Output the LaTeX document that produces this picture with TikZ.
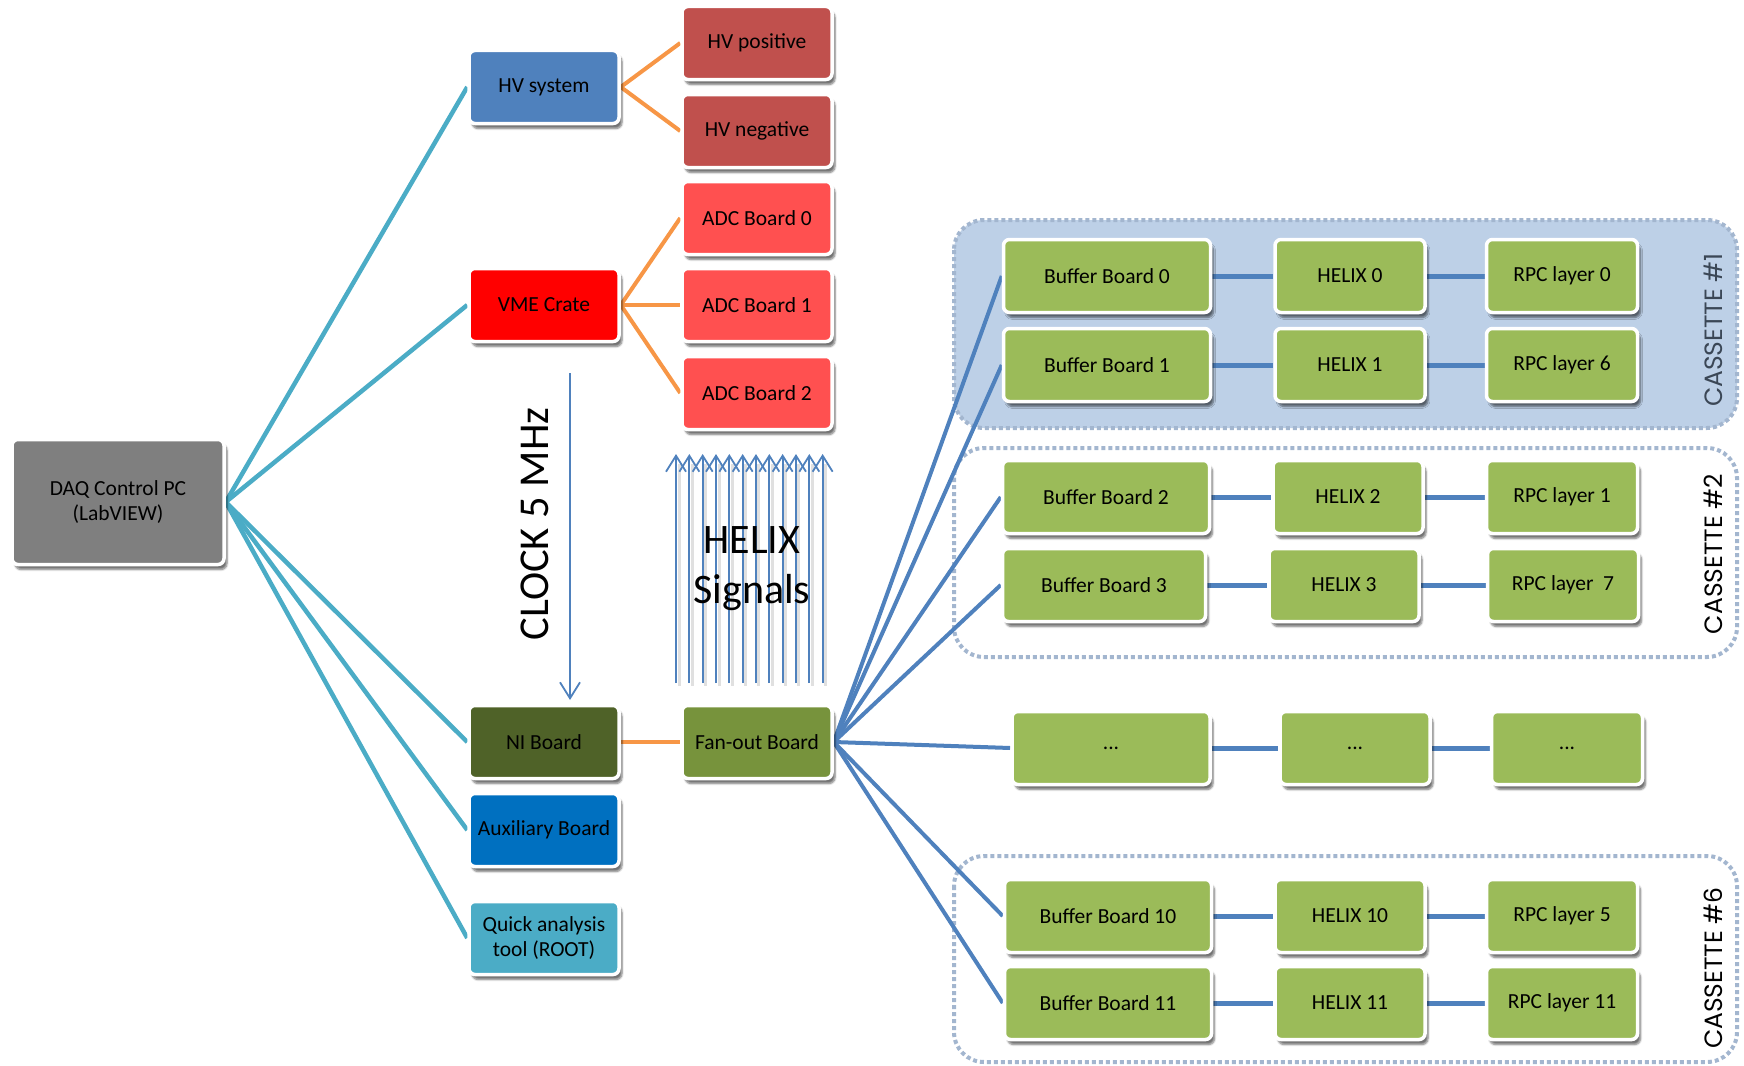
\documentclass[tikz,border=0pt]{standalone}
\usepackage{fontspec}
\setmainfont{Carlito}
\newfontfamily\cassfont{Poppins}
\usetikzlibrary{shadows.blur,arrows.meta,calc}
\pgfdeclarelayer{mid}
\pgfsetlayers{mid,main}
\definecolor{cgray}{HTML}{7F7F7F}
\definecolor{cblue}{HTML}{4F81BD}
\definecolor{cdred}{HTML}{C0504D}
\definecolor{cred}{HTML}{FF0000}
\definecolor{cadc}{HTML}{FF5050}
\definecolor{colive}{HTML}{4F6228}
\definecolor{caux}{HTML}{0070C0}
\definecolor{cteal}{HTML}{4BACC6}
\definecolor{cfan}{HTML}{77933C}
\definecolor{cgreen}{HTML}{9BBB59}
\definecolor{corange}{HTML}{F79646}
\definecolor{ccass}{HTML}{BDD0E7}
\definecolor{ccassb}{HTML}{A3B6CF}
\definecolor{ctext1}{HTML}{3B4756}
\begin{document}
\begin{tikzpicture}[x=1pt,y=-1pt,
  box/.style={rectangle, rounded corners=6pt, draw=white, line width=3.5pt,
    inner sep=0pt, align=center, text=black,
    font=\fontsize{21.5}{25}\selectfont,
    blur shadow={shadow xshift=3pt, shadow yshift=-5pt, shadow blur steps=6, shadow opacity=55}},
  midbox/.style={box, minimum width=150pt, minimum height=73pt},
  gbox/.style={box, fill=cgreen, minimum height=73pt},
  bufbox/.style={gbox, minimum width=207pt},
  hxbox/.style={gbox, minimum width=150pt},
  rpcbox/.style={gbox, minimum width=151pt},
  tealline/.style={draw=cteal, line width=4.5pt},
  orline/.style={draw=corange, line width=4pt},
  fanline/.style={draw=cblue, line width=4pt},
  rowline/.style={draw=cblue, line width=5pt},
  sigarrow/.style={draw=cblue, line width=1.8pt, -{Straight Barb[length=16pt,width=20pt,line width=1.8pt]}},
  cassette/.style={rounded corners=30pt, draw=ccassb, line width=4pt, dash pattern=on 4pt off 3pt},
  casslabel/.style={rotate=90, font=\cassfont\fontsize{25}{28}\selectfont, inner sep=0pt}
]
\useasboundingbox (0,0) rectangle (1744,1065);

\node[casslabel, text=ctext1] (c1) at (1713,330) {CASSETTE \#1};
\node[casslabel] (c2) at (1713,554) {CASSETTE \#2};
\node[casslabel] (c6) at (1713,968) {CASSETTE \#6};

% ---- left and middle boxes
\node[box, fill=cgray, minimum width=212pt, minimum height=125pt] (daq) at (118,502) {DAQ Control PC\\(LabVIEW)};
\node[midbox, fill=cblue] (hv) at (544,87) {HV system};
\node[midbox, fill=cdred] (hvp) at (757,43) {HV positive};
\node[midbox, fill=cdred] (hvn) at (757,131) {HV negative};
\node[midbox, fill=cadc] (adc0) at (757,218) {ADC Board 0};
\node[midbox, fill=cadc] (adc1) at (757,305) {ADC Board 1};
\node[midbox, fill=cadc] (adc2) at (757,393) {ADC Board 2};
\node[midbox, fill=cred] (vme) at (544,305) {VME Crate};
\node[midbox, fill=colive] (ni) at (544,742) {NI Board};
\node[midbox, fill=caux] (aux) at (544,830) {Auxiliary Board};
\node[midbox, fill=cteal] (qa) at (544,938) {Quick analysis\\tool (ROOT)};
\node[midbox, fill=cfan] (fan) at (757,742) {Fan-out Board};

% ---- right boxes
\node[bufbox] (b0) at (1107,276) {Buffer Board 0};
\node[hxbox] (h0) at (1350,276) {HELIX 0};
\node[rpcbox] (r0) at (1562,276) {RPC layer 0};
\node[bufbox] (b1) at (1107,365) {Buffer Board 1};
\node[hxbox] (h1) at (1350,365) {HELIX 1};
\node[rpcbox] (r1) at (1562,365) {RPC layer 6};
\node[bufbox] (b2) at (1106,497) {Buffer Board 2};
\node[hxbox] (h2) at (1348,497) {HELIX 2};
\node[rpcbox] (r2) at (1562,497) {RPC layer 1};
\node[bufbox, minimum width=203pt] (b3) at (1104,585) {Buffer Board 3};
\node[hxbox] (h3) at (1344,585) {HELIX 3};
\node[rpcbox] (r3) at (1563,585) {RPC layer\ \ 7};
\node[bufbox, minimum width=198pt] (bd) at (1111,748) {...};
\node[hxbox] (hd) at (1355,748) {...};
\node[rpcbox] (rd) at (1567,748) {...};
\node[bufbox] (b10) at (1108,916) {Buffer Board 10};
\node[hxbox] (h10) at (1350,916) {HELIX 10};
\node[rpcbox] (r10) at (1562,916) {RPC layer 5};
\node[bufbox] (b11) at (1108,1003) {Buffer Board 11};
\node[hxbox] (h11) at (1350,1003) {HELIX 11};
\node[rpcbox] (r11) at (1562,1003) {RPC layer 11};

% ---- cassettes and connectors (below the boxes)
\begin{pgfonlayer}{mid}
\draw[cassette, fill=ccass] (954,220) rectangle (1737,428);
\draw[cassette] (954,448) rectangle (1737,657);
\draw[cassette] (954,856) rectangle (1737,1062);
\foreach \t in {hv,vme,ni,aux,qa} \draw[tealline] (daq.east) -- (\t.west);
\draw[orline] (hv.east) -- (hvp.west);
\draw[orline] (hv.east) -- (hvn.west);
\foreach \t in {adc0,adc1,adc2} \draw[orline] (vme.east) -- (\t.west);
\draw[orline] (ni.east) -- (fan.west);
\foreach \t in {b0,b1,b2,b3,bd,b10,b11} \draw[fanline] (fan.east) -- (\t.west);
\foreach \r in {0,1,2,3,d,10,11} {
  \draw[rowline] (b\r.east) -- (h\r.west);
  \draw[rowline] (h\r.east) -- (r\r.west);
}
\end{pgfonlayer}

% ---- clock arrow
\coordinate (clkA) at (570,373);
\coordinate (clkB) at (570,700);
\draw[sigarrow] (clkA) -- (clkB);
\node[rotate=90, font=\fontsize{42.5}{48}\selectfont, inner sep=0pt] (clk) at (535,524) {CLOCK 5 MHz};

% ---- helix signal arrows
\foreach \i in {0,...,11} {
  \coordinate (sa\i) at ({676+\i*13.33},683);
  \coordinate (sb\i) at ({676+\i*13.33},454);
  \draw[black!12, line width=3pt] ($(sa\i)+(3,3)$) -- ($(sb\i)+(3,10)$);
}
\foreach \i in {0,...,11} \draw[sigarrow] (sa\i) -- (sb\i);
\node[align=center, font=\fontsize{42}{50}\selectfont, inner sep=0pt] (hs) at (752,569) {HELIX\\Signals};
\end{tikzpicture}
\end{document}
